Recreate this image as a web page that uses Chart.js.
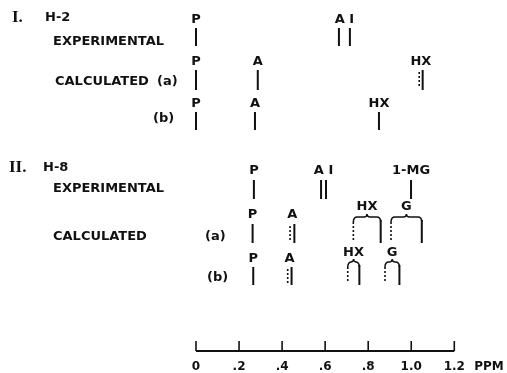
<!DOCTYPE html>
<html>
<head>
<meta charset="utf-8">
<script src="https://cdn.jsdelivr.net/npm/chart.js@4.4.1/dist/chart.umd.min.js"></script>
<style>
  html, body { margin: 0; padding: 0; background: #fff; }
  #wrap { position: relative; width: 507px; height: 373px; }
</style>
</head>
<body>
<div id="wrap"><canvas id="shiftChart"></canvas></div>
<script>
// Desplazamientos químicos (ppm) por fila; "dotted" = líneas punteadas
const h2Experimental = [
    { label: 'P', shifts: [0.0] },
    { label: 'A I', shifts: [0.664, 0.715] }
];
const h2CalculatedA = [
    { label: 'P', shifts: [0.0] },
    { label: 'A', shifts: [0.287] },
    { label: 'HX', shifts: [1.053], dotted: [1.037] }
];
const h2CalculatedB = [
    { label: 'P', shifts: [0.0] },
    { label: 'A', shifts: [0.274] },
    { label: 'HX', shifts: [0.850] }
];
const h8Experimental = [
    { label: 'P', shifts: [0.269] },
    { label: 'A I', shifts: [0.581, 0.604] },
    { label: '1-MG', shifts: [0.999] }
];
const h8CalculatedA = [
    { label: 'P', shifts: [0.263] },
    { label: 'A', shifts: [0.457], dotted: [0.437] },
    { label: 'HX', shifts: [0.858], dotted: [0.731], brace: true },
    { label: 'G', shifts: [1.049], dotted: [0.906], brace: true }
];
const h8CalculatedB = [
    { label: 'P', shifts: [0.266] },
    { label: 'A', shifts: [0.444], dotted: [0.426] },
    { label: 'HX', shifts: [0.759], dotted: [0.705], brace: true },
    { label: 'G', shifts: [0.945], dotted: [0.878], brace: true }
];

// Eje de ppm
const ppmTicks = [0, 0.2, 0.4, 0.6, 0.8, 1.0, 1.2];
const ppmTickLabels = ['0', '.2', '.4', '.6', '.8', '1.0', '1.2'];

// Posición vertical de cada fila (px en el lienzo)
const rows = [
    { groups: h2Experimental, labelY: 20, top: 28, bottom: 46 },
    { groups: h2CalculatedA, labelY: 62, top: 70, bottom: 90 },
    { groups: h2CalculatedB, labelY: 104, top: 112, bottom: 130 },
    { groups: h8Experimental, labelY: 171, top: 180, bottom: 199 },
    { groups: h8CalculatedA, labelY: 215, top: 224, bottom: 243, braceY: 217, braceLabelY: 207 },
    { groups: h8CalculatedB, labelY: 259, top: 267, bottom: 285, braceY: 262, braceLabelY: 253 }
];

// Títulos de la izquierda
const rowTitles = [
    { text: 'I.', x: 12, y: 18, serif: true },
    { text: 'H-2', x: 45, y: 18 },
    { text: 'EXPERIMENTAL', x: 53, y: 42 },
    { text: 'CALCULATED', x: 55, y: 82 },
    { text: '(a)', x: 157, y: 82 },
    { text: '(b)', x: 153, y: 119 },
    { text: 'II.', x: 9, y: 168, serif: true },
    { text: 'H-8', x: 43, y: 168 },
    { text: 'EXPERIMENTAL', x: 53, y: 189 },
    { text: 'CALCULATED', x: 53, y: 237 },
    { text: '(a)', x: 205, y: 237 },
    { text: '(b)', x: 207, y: 278 }
];

const AXIS_Y = 351;
const TICK_LEN = 10;
const PX_PER_PPM = 215.25;
const ZERO_PX = 196;
const WIDTH = 507;
const INK = '#111';
const LABEL_FONT = 'bold 13px "DejaVu Sans"';

function stickDataset(ppm, top, bottom, dotted) {
    return {
        data: [{ x: ppm, y: top }, { x: ppm, y: bottom }],
        borderColor: INK,
        borderWidth: dotted ? 1.6 : 2,
        borderDash: dotted ? [2, 2] : [],
        pointRadius: 0
    };
}

function buildDatasets() {
    const sets = [];
    rows.forEach(row => {
        row.groups.forEach(g => {
            const top = g.brace ? row.braceY + 3 : row.top;
            (g.dotted || []).forEach(s => sets.push(stickDataset(s, top + 2, row.bottom - 2, true)));
            g.shifts.forEach(s => sets.push(stickDataset(s, top, row.bottom, false)));
        });
    });
    // Eje
    sets.push({
        data: [{ x: ppmTicks[0], y: AXIS_Y }, { x: ppmTicks[ppmTicks.length - 1], y: AXIS_Y }],
        borderColor: INK, borderWidth: 2, pointRadius: 0
    });
    ppmTicks.forEach(t => {
        sets.push({
            data: [{ x: t, y: AXIS_Y - TICK_LEN }, { x: t, y: AXIS_Y }],
            borderColor: INK, borderWidth: 1.6, pointRadius: 0
        });
    });
    return sets;
}

function drawBrace(ctx, x1, x2, mid, y) {
    ctx.beginPath();
    ctx.moveTo(x1, y + 5);
    ctx.quadraticCurveTo(x1, y, x1 + 4, y);
    ctx.lineTo(mid - 3, y);
    ctx.quadraticCurveTo(mid, y, mid, y - 3);
    ctx.quadraticCurveTo(mid, y, mid + 3, y);
    ctx.lineTo(x2 - 4, y);
    ctx.quadraticCurveTo(x2, y, x2, y + 5);
    ctx.stroke();
}

const labelsPlugin = {
    id: 'labels',
    afterDatasetsDraw(chart) {
        const ctx = chart.ctx;
        const xs = chart.scales.x;
        ctx.save();
        ctx.fillStyle = INK;
        ctx.strokeStyle = INK;
        ctx.lineWidth = 1.5;
        ctx.textBaseline = 'middle';

        // Etiquetas de cada grupo de líneas
        ctx.font = LABEL_FONT;
        ctx.textAlign = 'center';
        rows.forEach(row => {
            row.groups.forEach(g => {
                const all = g.shifts.concat(g.dotted || []);
                const lo = xs.getPixelForValue(Math.min(...all));
                const hi = xs.getPixelForValue(Math.max(...all));
                const mid = (lo + hi) / 2;
                if (g.brace) {
                    drawBrace(ctx, lo, hi, mid, row.braceY);
                    ctx.fillText(g.label, mid, row.braceLabelY);
                } else {
                    ctx.fillText(g.label, mid, row.labelY);
                }
            });
        });

        // Títulos
        ctx.textAlign = 'left';
        rowTitles.forEach(t => {
            ctx.font = t.serif ? 'bold 17px "Liberation Serif"' : LABEL_FONT;
            ctx.fillText(t.text, t.x, t.y);
        });

        // Rótulos del eje
        ctx.font = 'bold 12px "DejaVu Sans"';
        ctx.textAlign = 'center';
        ppmTicks.forEach((t, i) => {
            ctx.fillText(ppmTickLabels[i], xs.getPixelForValue(t), AXIS_Y + 16);
        });
        ctx.fillText('PPM', 489, AXIS_Y + 16);
        ctx.restore();
    }
};

document.addEventListener('DOMContentLoaded', function() {
    const xMin = -ZERO_PX / PX_PER_PPM;
    const xMax = xMin + WIDTH / PX_PER_PPM;
    new Chart(document.getElementById('shiftChart'), {
        type: 'line',
        data: { datasets: buildDatasets() },
        options: {
            responsive: true,
            maintainAspectRatio: false,
            animation: false,
            layout: { padding: 0 },
            plugins: { legend: { display: false }, tooltip: { enabled: false } },
            scales: {
                x: { type: 'linear', min: xMin, max: xMax, display: false },
                y: { type: 'linear', min: 0, max: 373, reverse: true, display: false }
            }
        },
        plugins: [labelsPlugin]
    });
});
</script>
</body>
</html>
